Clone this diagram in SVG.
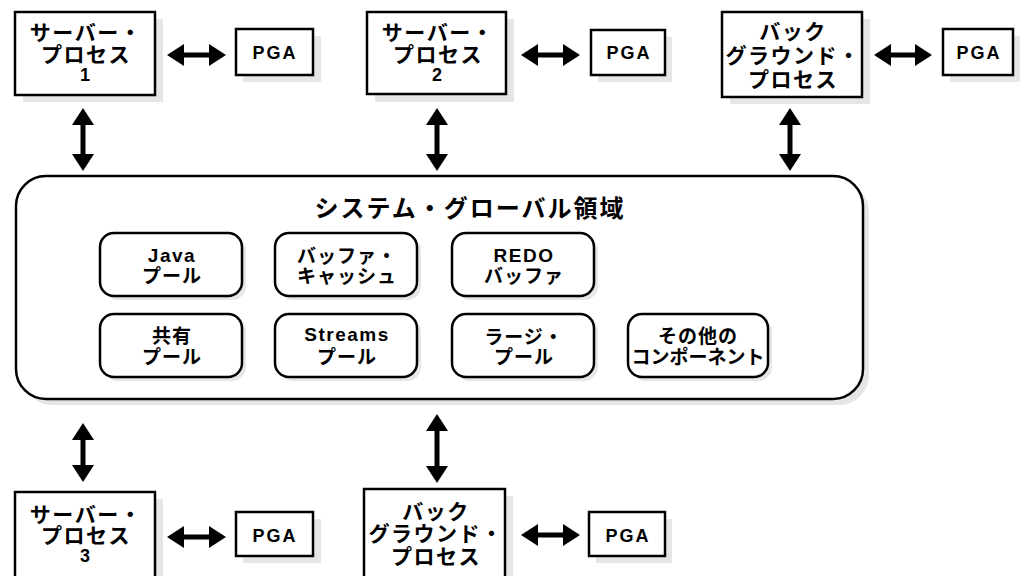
<svg xmlns="http://www.w3.org/2000/svg" width="1022" height="576" viewBox="0 0 1022 576">
<defs>
<style>
.box{fill:#fff;stroke:#000;stroke-width:2.5}
.sh{fill:#e6e6e6}
.t{font-family:"Liberation Sans","Noto Sans CJK JP",sans-serif;font-weight:bold;font-size:21px;text-anchor:middle;fill:#000;letter-spacing:1.5px}
.l{font-size:18px;letter-spacing:2px}
.ti{font-size:19px;letter-spacing:1px}
.tl{font-size:19px;letter-spacing:1.5px}
.title{font-size:24px;letter-spacing:2px}
.ar{stroke:#000;stroke-width:5;fill:none;marker-start:url(#ah);marker-end:url(#ah)}
</style>
<marker id="ah" viewBox="0 0 17 22" markerWidth="17" markerHeight="22" refX="1" refY="11" orient="auto-start-reverse" markerUnits="userSpaceOnUse">
<path d="M0,0 L17,11 L0,22 Z" fill="#000"/>
</marker>
</defs>
<rect width="1022" height="576" fill="#fff"/>

<g id="sga">
<rect class="sh" x="22" y="182" width="847" height="223" rx="30"/>
<rect class="box" x="16" y="176" width="847" height="223" rx="30"/>
<text class="t title" x="470" y="217">システム・グローバル領域</text>
</g>

<g id="java-pool">
<rect class="sh" x="104" y="237" width="142" height="63" rx="14"/>
<rect class="box" x="100" y="233" width="142" height="63" rx="14"/>
<text class="t tl" x="172" y="262">Java</text><text class="t ti" x="172" y="283">プール</text>
</g>
<g id="buffer-cache">
<rect class="sh" x="279" y="237" width="142" height="63" rx="14"/>
<rect class="box" x="275" y="233" width="142" height="63" rx="14"/>
<text class="t ti" x="347" y="263">バッファ・</text><text class="t ti" x="347" y="283">キャッシュ</text>
</g>
<g id="redo-buffer">
<rect class="sh" x="456" y="237" width="142" height="63" rx="14"/>
<rect class="box" x="452" y="233" width="142" height="63" rx="14"/>
<text class="t tl" x="524" y="262">REDO</text><text class="t ti" x="524" y="283">バッファ</text>
</g>
<g id="shared-pool">
<rect class="sh" x="104" y="318" width="142" height="63" rx="14"/>
<rect class="box" x="100" y="314" width="142" height="63" rx="14"/>
<text class="t ti" x="172" y="343">共有</text><text class="t ti" x="172" y="364">プール</text>
</g>
<g id="streams-pool">
<rect class="sh" x="279" y="318" width="142" height="63" rx="14"/>
<rect class="box" x="275" y="314" width="142" height="63" rx="14"/>
<text class="t tl" x="347" y="341">Streams</text><text class="t ti" x="347" y="364">プール</text>
</g>
<g id="large-pool">
<rect class="sh" x="456" y="318" width="142" height="63" rx="14"/>
<rect class="box" x="452" y="314" width="142" height="63" rx="14"/>
<text class="t ti" x="524" y="344">ラージ・</text><text class="t ti" x="524" y="364">プール</text>
</g>
<g id="other-components">
<rect class="sh" x="632" y="318" width="140" height="63" rx="14"/>
<rect class="box" x="628" y="314" width="140" height="63" rx="14"/>
<text class="t ti" x="698" y="343">その他の</text><text class="t ti" x="698" y="364" style="letter-spacing:0px">コンポーネント</text>
</g>

<g id="server-process-1">
<rect class="sh" x="23" y="19" width="140" height="83"/>
<rect class="box" x="15" y="12" width="140" height="83"/>
<text class="t" x="86" y="40">サーバー・</text><text class="t" x="86" y="62">プロセス</text><text class="t l" x="86" y="81">1</text>
</g>
<g id="pga-1">
<rect class="sh" x="243" y="36" width="78" height="46"/>
<rect class="box" x="236" y="29" width="77" height="46"/>
<text class="t l" x="275" y="59">PGA</text>
</g>
<g id="server-process-2">
<rect class="sh" x="375" y="19" width="139" height="83"/>
<rect class="box" x="367" y="12" width="139" height="82"/>
<text class="t" x="438" y="40">サーバー・</text><text class="t" x="438" y="62">プロセス</text><text class="t l" x="438" y="81">2</text>
</g>
<g id="pga-2">
<rect class="sh" x="598" y="37" width="74" height="45"/>
<rect class="box" x="591" y="30" width="74" height="45"/>
<text class="t l" x="629" y="59">PGA</text>
</g>
<g id="background-process-1">
<rect class="sh" x="730" y="19" width="140" height="85"/>
<rect class="box" x="722" y="12" width="140" height="85"/>
<text class="t" x="793" y="39">バック</text><text class="t" x="793" y="63">グラウンド・</text><text class="t" x="793" y="87">プロセス</text>
</g>
<g id="pga-3">
<rect class="sh" x="950" y="36" width="70" height="46"/>
<rect class="box" x="943" y="29" width="70" height="46"/>
<text class="t l" x="979" y="59">PGA</text>
</g>
<g id="server-process-3">
<rect class="sh" x="23" y="499" width="140" height="90"/>
<rect class="box" x="15" y="492" width="140" height="90"/>
<text class="t" x="86" y="522">サーバー・</text><text class="t" x="86" y="543">プロセス</text><text class="t l" x="86" y="562">3</text>
</g>
<g id="pga-4">
<rect class="sh" x="243" y="519" width="78" height="44"/>
<rect class="box" x="236" y="512" width="77" height="44"/>
<text class="t l" x="275" y="542">PGA</text>
</g>
<g id="background-process-2">
<rect class="sh" x="372" y="496" width="141" height="90"/>
<rect class="box" x="364" y="489" width="141" height="90"/>
<text class="t" x="436" y="519">バック</text><text class="t" x="436" y="541">グラウンド・</text><text class="t" x="436" y="564">プロセス</text>
</g>
<g id="pga-5">
<rect class="sh" x="596" y="519" width="76" height="44"/>
<rect class="box" x="589" y="512" width="76" height="44"/>
<text class="t l" x="628" y="542">PGA</text>
</g>

<g id="connectors">
<line class="ar" x1="183" y1="55" x2="210" y2="55"/>
<line class="ar" x1="537" y1="55" x2="564" y2="55"/>
<line class="ar" x1="890" y1="55" x2="916" y2="55"/>
<line class="ar" x1="83" y1="124" x2="83" y2="155"/>
<line class="ar" x1="437" y1="124" x2="437" y2="155"/>
<line class="ar" x1="790" y1="124" x2="790" y2="155"/>
<line class="ar" x1="83" y1="439" x2="83" y2="466"/>
<line class="ar" x1="437" y1="430" x2="437" y2="467"/>
<line class="ar" x1="183" y1="537" x2="210" y2="537"/>
<line class="ar" x1="537" y1="535" x2="564" y2="535"/>
</g>
</svg>
